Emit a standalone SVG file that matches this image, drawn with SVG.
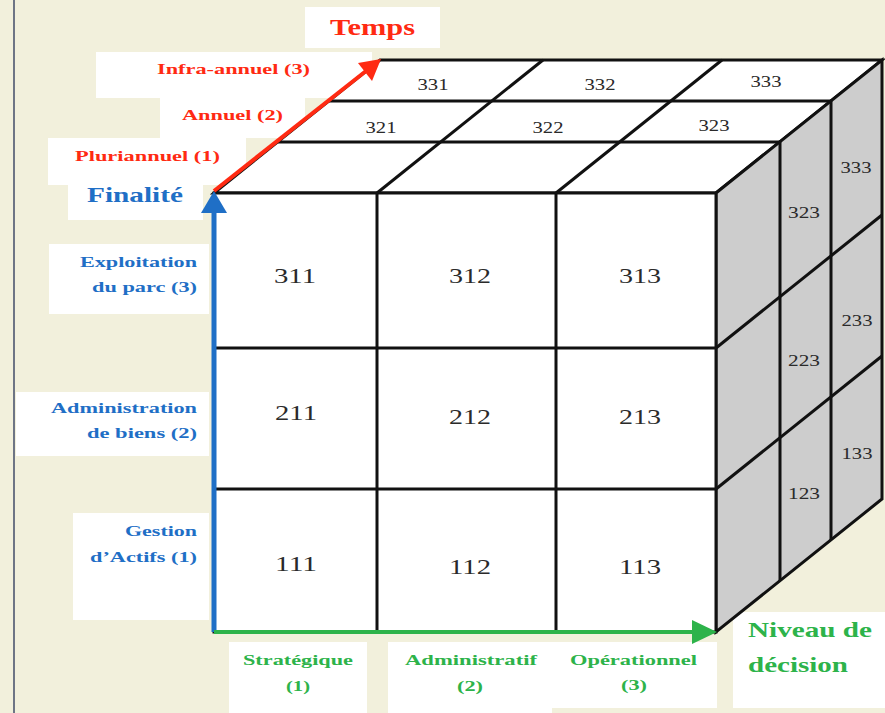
<svg xmlns="http://www.w3.org/2000/svg" width="885" height="713" viewBox="0 0 885 713">
<style>
.bg{fill:#f2f0dc}
.wb{fill:#ffffff}
.edge{stroke:#111;stroke-width:3;fill:none;stroke-linejoin:miter}
.face{fill:#ffffff;stroke:#111;stroke-width:3}
.side{fill:#cdcdcd;stroke:#111;stroke-width:3}
.num{font-family:"Liberation Serif",serif;fill:#2a2a2a;text-anchor:middle}
.nf{font-size:22px}
.ns{font-size:17px}
.lab{font-family:"Liberation Serif",serif;font-weight:bold}
.red{fill:#ff2a12}
.blue{fill:#1f6fc6}
.green{fill:#2db34a}
</style>
<rect class="bg" x="0" y="0" width="885" height="713"/>
<line x1="14" y1="0" x2="14" y2="713" stroke="#6e7585" stroke-width="2"/>

<g id="label-boxes">
<rect class="wb" x="305" y="7" width="135" height="41"/>
<rect class="wb" x="96" y="52" width="276" height="46"/>
<rect class="wb" x="160" y="98" width="145" height="40"/>
<rect class="wb" x="48" y="138" width="198" height="47"/>
<rect class="wb" x="68" y="185" width="135" height="35"/>
<rect class="wb" x="49" y="244" width="160" height="70"/>
<rect class="wb" x="16" y="392" width="193" height="64"/>
<rect class="wb" x="73" y="513" width="136" height="107"/>
<rect class="wb" x="229" y="642" width="138" height="71"/>
<rect class="wb" x="388" y="642" width="164" height="71"/>
<rect class="wb" x="552" y="642" width="165" height="66"/>
<rect class="wb" x="733" y="612" width="152" height="96"/>
</g>

<g id="cube">
<g id="top-face">
<polygon class="face" points="214,193 716,193 882,60 380,60"/>
<line class="edge" x1="278" y1="142" x2="780" y2="142"/>
<line class="edge" x1="329" y1="101" x2="831" y2="101"/>
<line class="edge" x1="377" y1="193" x2="543" y2="60"/>
<line class="edge" x1="556" y1="193" x2="722" y2="60"/>
<text class="num ns" x="433" y="90" textLength="31" lengthAdjust="spacingAndGlyphs">331</text>
<text class="num ns" x="600" y="90" textLength="31" lengthAdjust="spacingAndGlyphs">332</text>
<text class="num ns" x="766" y="87" textLength="31" lengthAdjust="spacingAndGlyphs">333</text>
<text class="num ns" x="381" y="133" textLength="31" lengthAdjust="spacingAndGlyphs">321</text>
<text class="num ns" x="548" y="133" textLength="31" lengthAdjust="spacingAndGlyphs">322</text>
<text class="num ns" x="714" y="131" textLength="31" lengthAdjust="spacingAndGlyphs">323</text>
</g>
<g id="right-face">
<polygon class="side" points="716,193 882,60 882,499 716,632"/>
<line class="edge" x1="780" y1="142" x2="780" y2="581"/>
<line class="edge" x1="831" y1="101" x2="831" y2="540"/>
<line class="edge" x1="716" y1="348" x2="882" y2="215"/>
<line class="edge" x1="716" y1="489" x2="882" y2="356"/>
<text class="num ns" x="804" y="218" textLength="32" lengthAdjust="spacingAndGlyphs">323</text>
<text class="num ns" x="804" y="366" textLength="32" lengthAdjust="spacingAndGlyphs">223</text>
<text class="num ns" x="804" y="499" textLength="32" lengthAdjust="spacingAndGlyphs">123</text>
<text class="num ns" x="856" y="173" textLength="31" lengthAdjust="spacingAndGlyphs">333</text>
<text class="num ns" x="857" y="326" textLength="31" lengthAdjust="spacingAndGlyphs">233</text>
<text class="num ns" x="857" y="459" textLength="31" lengthAdjust="spacingAndGlyphs">133</text>
</g>
<g id="front-face">
<rect class="face" x="214" y="193" width="502" height="439"/>
<line class="edge" x1="377" y1="193" x2="377" y2="632"/>
<line class="edge" x1="556" y1="193" x2="556" y2="632"/>
<line class="edge" x1="214" y1="348" x2="716" y2="348"/>
<line class="edge" x1="214" y1="489" x2="716" y2="489"/>
<text class="num nf" x="295" y="283" textLength="42" lengthAdjust="spacingAndGlyphs">311</text>
<text class="num nf" x="470" y="283" textLength="42" lengthAdjust="spacingAndGlyphs">312</text>
<text class="num nf" x="640" y="283" textLength="42" lengthAdjust="spacingAndGlyphs">313</text>
<text class="num nf" x="296" y="420" textLength="42" lengthAdjust="spacingAndGlyphs">211</text>
<text class="num nf" x="470" y="424" textLength="42" lengthAdjust="spacingAndGlyphs">212</text>
<text class="num nf" x="640" y="424" textLength="42" lengthAdjust="spacingAndGlyphs">213</text>
<text class="num nf" x="296" y="571" textLength="42" lengthAdjust="spacingAndGlyphs">111</text>
<text class="num nf" x="470" y="574" textLength="42" lengthAdjust="spacingAndGlyphs">112</text>
<text class="num nf" x="640" y="574" textLength="42" lengthAdjust="spacingAndGlyphs">113</text>
</g>
</g>

<g id="connectors">
<line x1="214" y1="632" x2="214" y2="210" stroke="#1f6fc6" stroke-width="5"/>
<polygon points="214,191 201,213 227,213" fill="#1f6fc6"/>
<line x1="214" y1="632" x2="694" y2="632" stroke="#2db34a" stroke-width="4"/>
<polygon points="717,632 692,620 692,644" fill="#2db34a"/>
<line x1="214" y1="191" x2="366" y2="71" stroke="#ff2a12" stroke-width="4"/>
<polygon points="381,59 358,63 372,81" fill="#ff2a12"/>
</g>

<g id="axis-temps">
<text class="lab red" x="330" y="35" font-size="24" textLength="85" lengthAdjust="spacingAndGlyphs">Temps</text>
<text class="lab red" x="157" y="74" font-size="15" textLength="153" lengthAdjust="spacingAndGlyphs">Infra-annuel (3)</text>
<text class="lab red" x="182" y="120" font-size="15" textLength="101" lengthAdjust="spacingAndGlyphs">Annuel (2)</text>
<text class="lab red" x="75" y="161" font-size="15" textLength="145" lengthAdjust="spacingAndGlyphs">Pluriannuel (1)</text>
</g>
<g id="axis-finalite">
<text class="lab blue" x="87" y="202" font-size="21" textLength="96" lengthAdjust="spacingAndGlyphs">Finalité</text>
<text class="lab blue" x="80" y="267" font-size="15" textLength="117" lengthAdjust="spacingAndGlyphs">Exploitation</text>
<text class="lab blue" x="92" y="292" font-size="15" textLength="105" lengthAdjust="spacingAndGlyphs">du parc (3)</text>
<text class="lab blue" x="51" y="413" font-size="15" textLength="146" lengthAdjust="spacingAndGlyphs">Administration</text>
<text class="lab blue" x="87" y="438" font-size="15" textLength="110" lengthAdjust="spacingAndGlyphs">de biens (2)</text>
<text class="lab blue" x="125" y="536" font-size="15" textLength="72" lengthAdjust="spacingAndGlyphs">Gestion</text>
<text class="lab blue" x="90" y="562" font-size="15" textLength="107" lengthAdjust="spacingAndGlyphs">d’Actifs (1)</text>
</g>
<g id="axis-niveau">
<text class="lab green" x="243" y="665" font-size="14" textLength="110" lengthAdjust="spacingAndGlyphs">Stratégique</text>
<text class="lab green" x="286" y="691" font-size="14" textLength="24" lengthAdjust="spacingAndGlyphs">(1)</text>
<text class="lab green" x="405" y="665" font-size="14" textLength="132" lengthAdjust="spacingAndGlyphs">Administratif</text>
<text class="lab green" x="457" y="691" font-size="14" textLength="26" lengthAdjust="spacingAndGlyphs">(2)</text>
<text class="lab green" x="570" y="665" font-size="14" textLength="127" lengthAdjust="spacingAndGlyphs">Opérationnel</text>
<text class="lab green" x="621" y="690" font-size="14" textLength="26" lengthAdjust="spacingAndGlyphs">(3)</text>
<text class="lab green" x="748" y="637" font-size="21" textLength="124" lengthAdjust="spacingAndGlyphs">Niveau de</text>
<text class="lab green" x="748" y="672" font-size="21" textLength="100" lengthAdjust="spacingAndGlyphs">décision</text>
</g>
</svg>
